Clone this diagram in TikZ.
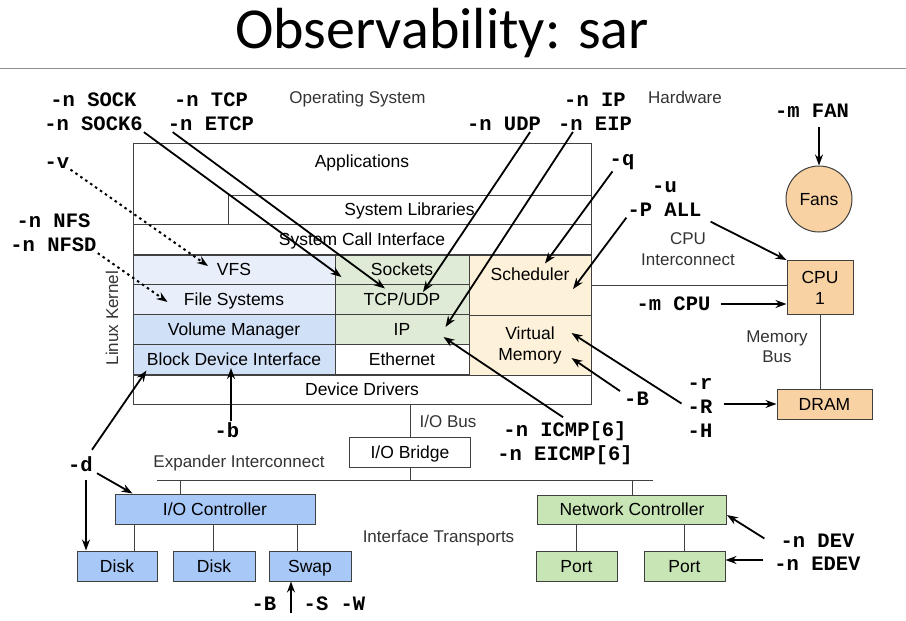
\documentclass[tikz,border=0pt]{standalone}
\usepackage{fontspec}
\setmainfont{Liberation Sans}
\newfontfamily\codefont{Liberation Mono}
\newfontfamily\titlefont{Carlito}
\usetikzlibrary{arrows.meta}

\definecolor{fslight}{HTML}{E9EFFA}
\definecolor{blkblue}{HTML}{D0E0F7}
\definecolor{netlight}{HTML}{DFEBD6}
\definecolor{cpulight}{HTML}{FEF1D9}
\definecolor{hwpeach}{HTML}{F9D2A3}
\definecolor{iofill}{HTML}{A8C8F7}
\definecolor{nicfill}{HTML}{C8E5B5}

\tikzset{
    klayer/.style={draw=black!75, line width=1pt, rectangle, inner sep=0pt,
        text height=12.5pt, text depth=0pt},
    hwbox/.style={klayer, fill=hwpeach},
    flag/.style={font=\codefont\bfseries\fontsize{20.5}{24}\selectfont,
        inner sep=1pt, align=center},
    note/.style={font=\fontsize{17}{20.4}\selectfont, text=black!80,
        align=center, inner sep=1pt},
    probe/.style={-{Stealth[length=11pt, width=8pt]}, line width=1.8pt},
    vprobe/.style={probe, line width=2pt, dash pattern=on 2.5pt off 3.5pt},
    wire/.style={draw=black!75, line width=1pt}
}

\begin{document}
\begin{tikzpicture}[x=1pt, y=-1pt, font=\fontsize{17.5}{21}\selectfont]
    \useasboundingbox (0,0) rectangle (906,621);

    \node[font=\titlefont\fontsize{58}{60}\selectfont,
        anchor=base
    ] (title) at (442,48) {Observability: sar};
    \draw[black!45, line width=1.5pt] (0,68.5) -- (906,68.5);

    % kernel stack
    \node[klayer, minimum width=458pt, minimum height=81pt,
        label={[yshift=20.5pt]center:Applications}
    ] (apps) at (362,183.5) {};
    \node[klayer, minimum width=363pt, minimum height=29pt] (syslib) at (409.5,209.5) {System Libraries};
    \node[klayer, minimum width=458pt, minimum height=30pt] (sci) at (362,239.5) {System Call Interface};
    \node[klayer, fill=fslight, minimum width=202pt, minimum height=29pt] (vfs) at (234,269.5) {VFS};
    \node[klayer, fill=fslight, minimum width=202pt, minimum height=30pt] (fs) at (234,299.5) {File Systems};
    \node[klayer, fill=blkblue, minimum width=202pt, minimum height=30pt] (vm) at (234,329.5) {Volume Manager};
    \node[klayer, fill=blkblue, minimum width=202pt, minimum height=30pt] (bdi) at (234,359.5) {Block Device Interface};
    \node[klayer, fill=netlight, minimum width=134pt, minimum height=29pt] (sockets) at (402,269.5) {Sockets};
    \node[klayer, fill=netlight, minimum width=134pt, minimum height=30pt] (tcpudp) at (402,299.5) {TCP/UDP};
    \node[klayer, fill=netlight, minimum width=134pt, minimum height=30pt] (ipl) at (402,329.5) {IP};
    \node[klayer, minimum width=134pt, minimum height=30pt] (eth) at (402,359.5) {Ethernet};
    \node[klayer, fill=cpulight, minimum width=122pt, minimum height=60pt,
        label={[yshift=11pt]center:Scheduler}
    ] (sched) at (530,285) {};
    \node[klayer, fill=cpulight, minimum width=122pt, minimum height=60pt,
        text height=, text depth=, align=center
    ] (virtmem) at (530,345) {Virtual\\Memory};
    \node[klayer, minimum width=458pt, minimum height=29pt] (drivers) at (362,389.5) {Device Drivers};

    % hardware
    \node[hwbox, minimum width=66pt, minimum height=54pt,
        text height=, text depth=, align=center
    ] (cpu) at (820,287.5) {CPU\\1};
    \node[hwbox, minimum width=95pt, minimum height=30pt] (dram) at (824.5,404) {DRAM};
    \node[hwbox, circle, minimum size=66pt] (fans) at (819,199) {Fans};
    \draw[wire] (sched.east) -- (sched.east -| cpu.west);
    \draw[wire] (cpu.south) -- (cpu.south |- dram.north);

    % I/O
    \node[klayer, minimum width=121pt, minimum height=30pt] (bridge) at (410,452) {I/O Bridge};
    \draw[wire] (bridge.north |- drivers.south) -- (bridge.north);
    \coordinate (xbusL) at (157,480);
    \coordinate (xbusR) at (653,480);
    \draw[wire] (xbusL) -- (xbusR);
    \draw[wire] (bridge.south) -- (bridge.south |- xbusL);
    \node[klayer, fill=iofill, minimum width=200pt, minimum height=30pt] (ioc) at (215,509) {I/O Controller};
    \coordinate (iocTap) at (180,480);
    \draw[wire] (iocTap) -- (iocTap |- ioc.north);
    \node[klayer, fill=iofill, minimum width=80pt, minimum height=30pt] (disk1) at (117,566) {Disk};
    \node[klayer, fill=iofill, minimum width=82pt, minimum height=30pt] (disk2) at (214,566) {Disk};
    \node[klayer, fill=iofill, minimum width=82pt, minimum height=30pt] (swap) at (310,566) {Swap};
    \draw[wire] ([xshift=17pt]disk1.north) -- ([xshift=17pt]disk1.north |- ioc.south);
    \draw[wire] ([xshift=-1pt]disk2.north) -- ([xshift=-1pt]disk2.north |- ioc.south);
    \draw[wire] ([xshift=-13pt]swap.north) -- ([xshift=-13pt]swap.north |- ioc.south);

    % network
    \node[klayer, fill=nicfill, minimum width=189pt, minimum height=29pt] (nic) at (632,509.5) {Network Controller};
    \draw[wire] (nic.north |- xbusR) -- (nic.north);
    \node[klayer, fill=nicfill, minimum width=81pt, minimum height=30pt] (port1) at (576.5,566) {Port};
    \node[klayer, fill=nicfill, minimum width=81pt, minimum height=30pt] (port2) at (684.5,566) {Port};
    \draw[wire] (port1.north) -- (port1.north |- nic.south);
    \draw[wire] (port2.north) -- (port2.north |- nic.south);

    % area labels
    \node[note] (osLbl) at (357.5,98.7) {Operating System};
    \node[note] (hwLbl) at (685,97) {Hardware};
    \node[note] (cpuIc) at (688,249) {CPU\\Interconnect};
    \node[note] (memBus) at (777,346.5) {Memory\\Bus};
    \node[note] (ioBus) at (448,421) {I/O Bus};
    \node[note] (xLbl) at (239,462.7) {Expander Interconnect};
    \node[note] (itLbl) at (438.5,537.7) {Interface Transports};
    \node[note, rotate=90] (lkLbl) at (112,318) {Linux Kernel};

    % sar options
    \node[flag] (oSock) at (93.5,112) {-n SOCK\\-n SOCK6};
    \node[flag] (oTcp) at (211,112) {-n TCP\\-n ETCP};
    \node[flag] (oIp) at (595,112) {-n IP\\-n EIP};
    \node[flag] (oUdp) at (504,124) {-n UDP};
    \node[flag] (oQ) at (622,162.5) {-q};
    \node[flag] (oUP) at (664.5,199) {-u\\-P ALL};
    \node[flag] (oMcpu) at (673.5,304) {-m CPU};
    \node[flag] (oFan) at (812,111) {-m FAN};
    \node[flag] (oRRH) at (700,407.5) {-r\\-R\\-H};
    \node[flag] (oB) at (636.5,399) {-B};
    \node[flag] (oIcmp) at (565,443) {-n ICMP[6]\\-n EICMP[6]};
    \node[flag] (oV) at (57,163) {-v};
    \node[flag] (oNfs) at (53.5,233) {-n NFS\\-n NFSD};
    \node[flag] (oD) at (80.5,464.5) {-d};
    \node[flag] (oLb) at (227,430) {-b};
    \node[flag] (oSwapB) at (264,603.5) {-B};
    \node[flag] (oSwapSW) at (334.5,603.5) {-S -W};
    \node[flag] (oDev) at (817.5,540.5) {-n DEV};
    \node[flag] (oEdev) at (817.5,564) {-n EDEV};

    % network stack probes
    \draw[probe] (oSock.south east) -- ([xshift=7pt,yshift=-7.5pt]sockets.west);
    \draw[probe] ([xshift=6pt]oTcp.south west) -- ([xshift=-17pt,yshift=-4.5pt]tcpudp.north);
    \draw[probe] ([xshift=-12pt]oUdp.south east) -- ([xshift=21pt,yshift=-8pt]tcpudp.north);
    \draw[probe] ([xshift=16pt]oIp.south west) -- ([xshift=-24pt,yshift=2.5pt]ipl.east);
    \draw[probe] ([xshift=-2pt,yshift=3pt]oIcmp.north) -- ([xshift=-26pt,yshift=-7.5pt]ipl.east);

    % cpu and memory probes
    \draw[probe] ([xshift=4pt]oQ.south west) -- ([xshift=15pt,yshift=-9pt]sched.north);
    \draw[probe] (oUP.south west) -- ([xshift=43pt,yshift=-4pt]sched.center);
    \draw[probe, shorten <=9pt] (oUP.south east) -- (cpu.north west);
    \draw[probe, shorten <=9pt] (oMcpu.east) -- (oMcpu.east -| cpu.west);
    \draw[probe, shorten <=8pt] (oFan.south -| fans.north) -- (fans.north);
    \draw[probe, shorten <=10pt] (oRRH.east |- dram.west) -- (dram.west);
    \draw[probe] ([xshift=-5pt,yshift=4pt]oRRH.west) -- ([xshift=-20pt,yshift=12pt]virtmem.east);
    \draw[probe] ([xshift=-3pt]oB.north west) -- ([xshift=-20pt,yshift=-13pt]virtmem.east);

    % file system probes
    \draw[vprobe] (oV.south east) -- ([xshift=-26pt,yshift=3.5pt]vfs.center);
    \draw[vprobe] (oNfs.south east) -- ([xshift=35pt,yshift=-2.5pt]fs.west);

    % block device probes
    \coordinate (dTap) at ([xshift=5.5pt]oD.south);
    \draw[probe] ([xshift=-2pt,yshift=6pt]oD.north east) -- ([xshift=14pt,yshift=4.5pt]bdi.south west);
    \draw[probe] ([xshift=3pt]oD.south east) -- ([xshift=18pt]ioc.north west);
    \draw[probe, shorten <=7pt] (dTap) -- (dTap |- disk1.north);
    \draw[probe] ([xshift=4pt]oLb.north) -- ([xshift=-3pt,yshift=7pt]bdi.south);
    \coordinate (swapIn) at (291,613);
    \draw[probe] (swapIn) -- (swapIn |- swap.south);

    % nic probes
    \draw[probe] ([xshift=-15pt,yshift=2pt]oDev.west) -- ([yshift=-5.5pt]nic.east);
    \draw[probe, shorten <=10pt] ([yshift=4pt]oEdev.west) -- ([yshift=4pt]oEdev.west -| port2.east);
\end{tikzpicture}
\end{document}
